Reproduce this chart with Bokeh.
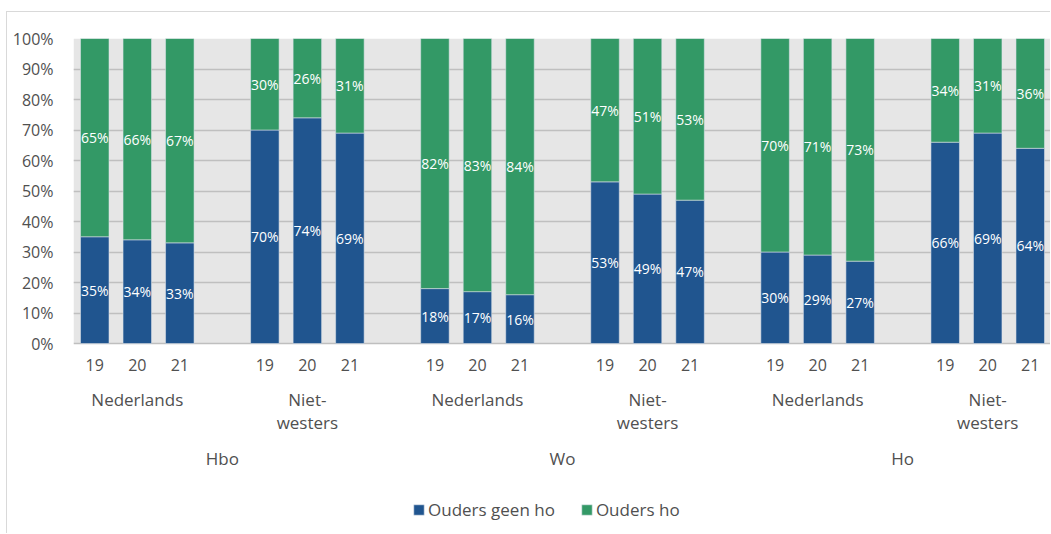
from bokeh.plotting import figure
from bokeh.models import Range1d, FixedTicker, Legend, LegendItem, ColumnDataSource, BoxAnnotation
from bokeh.embed import file_html
from bokeh.resources import INLINE
from bokeh.core.properties import value

# ---- data ----
groups = ["Hbo", "Wo", "Ho"]
subgroups = ["Nederlands", "Niet-\nwesters"]
years = ["19", "20", "21"]
geen_ho = [35, 34, 33, 70, 74, 69, 18, 17, 16, 53, 49, 47, 30, 29, 27, 66, 69, 64]
ho = [65, 66, 67, 30, 26, 31, 82, 83, 84, 47, 51, 53, 70, 71, 73, 34, 31, 36]
series_names = ["Ouders geen ho", "Ouders ho"]
y_ticks = [0, 10, 20, 30, 40, 50, 60, 70, 80, 90, 100]

BLUE = "#20558F"
GREEN = "#339966"
TXT = "#505050"
FONT = "Open Sans"

# ---- layout constants (pixels) ----
PX_PER_UNIT = 3.05          # plot height 305 px for 0..100 %
BELOW_PX = 191              # room below the 0 % line for the category labels and legend
YEAR_OFF, SUB_TOP_OFF, GROUP_OFF = 21.5, 44.0, 115.0


def below(px):
    return -px / PX_PER_UNIT


# ---- positions derived from structure (3 bars per block, one empty slot between blocks) ----
slot = len(years) + 1
n_blocks = len(groups) * len(subgroups)
xs, x_years = [], []
for b in range(n_blocks):
    for j in range(len(years)):
        xs.append(b * slot + j)
        x_years.append(years[j])
sub_x = [b * slot + (len(years) - 1) // 2 for b in range(n_blocks)]
sub_lbl = [subgroups[b % len(subgroups)] for b in range(n_blocks)]
per = len(subgroups) * slot
grp_x = [g * per + (per - 2) // 2 for g in range(len(groups))]

src = ColumnDataSource(dict(
    x=xs,
    geen=geen_ho,
    ho=ho,
    geen_mid=[g / 2 for g in geen_ho],
    ho_mid=[g + h / 2 for g, h in zip(geen_ho, ho)],
    geen_lbl=[f"{g}%" for g in geen_ho],
    ho_lbl=[f"{h}%" for h in ho],
))

p = figure(width=1044, height=522, output_backend="svg", toolbar_location=None,
           x_range=Range1d(-0.5, n_blocks * slot - 1.5),
           y_range=Range1d(below(BELOW_PX), 100),
           min_border_left=66, min_border_right=0, min_border_top=26, min_border_bottom=0)
p.styles = {"position": "relative", "left": "6px", "top": "11px",
            "border-left": "1px solid #d9d9d9", "border-top": "1px solid #d9d9d9"}

p.background_fill_color = "white"
p.border_fill_color = "white"
p.outline_line_color = None

# grey plot area behind 0..100 %
p.add_layout(BoxAnnotation(bottom=0, top=100, fill_color="#E6E6E6", fill_alpha=1,
                           line_color=None, level="image"))

rs = p.vbar_stack(["geen", "ho"], x="x", width=0.67, source=src,
                  color=[BLUE, GREEN], line_color="#dde3ea", line_width=0.8, line_alpha=0.7)

for col, lbl in (("geen_mid", "geen_lbl"), ("ho_mid", "ho_lbl")):
    p.text(x="x", y=col, text=lbl, source=src, text_color="white",
           text_font=value(FONT), text_font_size="14px",
           text_align="center", text_baseline="middle")

# grid
p.xgrid.grid_line_color = None
p.ygrid.ticker = FixedTicker(ticks=y_ticks)
p.ygrid.grid_line_color = "#BFBFBF"
p.ygrid.grid_line_width = 1.4

# y axis
p.yaxis.ticker = FixedTicker(ticks=y_ticks)
p.yaxis.major_label_overrides = {t: f"{t}%" for t in y_ticks}
p.yaxis.axis_line_color = None
p.yaxis.major_tick_line_color = None
p.yaxis.minor_tick_line_color = None
p.yaxis.major_label_standoff = 14
p.yaxis.major_label_text_font = FONT
p.yaxis.major_label_text_font_size = "16px"
p.yaxis.major_label_text_color = TXT

p.xaxis.visible = False

# category labels (three levels)
p.text(x=xs, y=[below(YEAR_OFF)] * len(xs), text=x_years,
       text_font=value(FONT), text_font_size="16px", text_color=TXT,
       text_align="center", text_baseline="middle")
p.text(x=sub_x, y=[below(SUB_TOP_OFF)] * len(sub_x), text=sub_lbl,
       text_font=value(FONT), text_font_size="17px", text_color=TXT,
       text_align="center", text_baseline="top", text_line_height=1.0)
p.text(x=grp_x, y=[below(GROUP_OFF)] * len(grp_x), text=groups,
       text_font=value(FONT), text_font_size="17px", text_color=TXT,
       text_align="center", text_baseline="middle")

legend = Legend(items=[LegendItem(label=series_names[i], renderers=[rs[i]]) for i in range(2)],
                orientation="horizontal", location=(339, 13),
                glyph_width=13, glyph_height=13, label_standoff=3, spacing=25,
                padding=0, margin=0, border_line_color=None, background_fill_alpha=0,
                label_text_font=FONT, label_text_font_size="17px", label_text_color=TXT)
p.add_layout(legend)

open("out.html", "w").write(file_html(p, INLINE))
